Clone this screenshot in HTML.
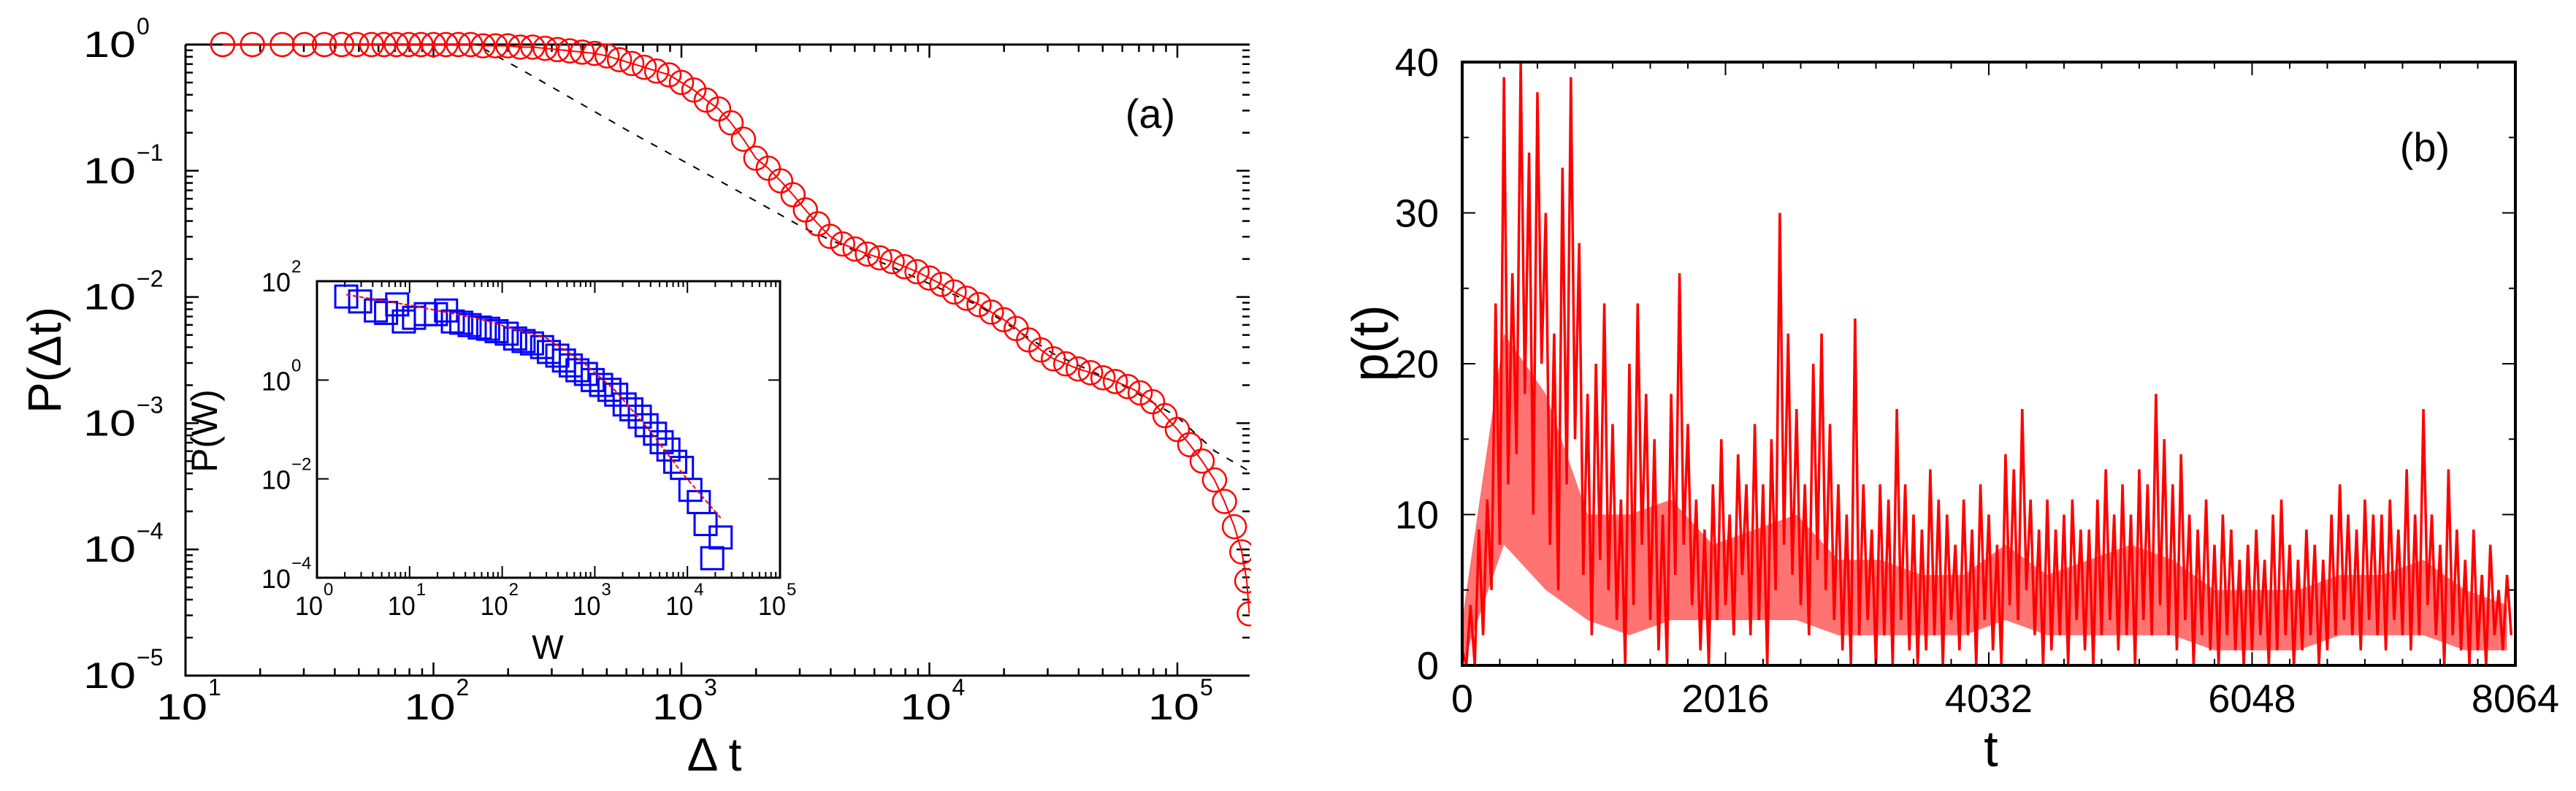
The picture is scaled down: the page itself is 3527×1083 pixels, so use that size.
<!DOCTYPE html>
<html><head><meta charset="utf-8"><style>
html,body{margin:0;padding:0;background:#fff;}
svg{display:block;font-family:"Liberation Sans",sans-serif;}
</style></head><body>
<svg id="fig" width="3527" height="1083" viewBox="0 0 3527 1083" xmlns="http://www.w3.org/2000/svg">
<defs><clipPath id="clipA"><rect x="200" y="0" width="1513" height="1083"/></clipPath>
<clipPath id="clipB"><rect x="2002" y="85" width="1442" height="826"/></clipPath></defs>
<g id="panelA"></g>
<g id="panelB"></g>
</svg>
<script>
// ---------- Panel (a) data (log10 values) ----------
const circleLogX = [1.15,1.27,1.39,1.48,1.56,1.63,1.69,1.75,1.80,1.85,1.90,1.95,2.00,2.05,2.10,2.15,2.20,2.25,2.30,2.35,2.40,2.45,2.50,2.55,2.60,2.65,2.70,2.75,2.80,2.85,2.90,2.95,3.00,3.05,3.10,3.15,3.20,3.25,3.30,3.35,3.40,3.45,3.50,3.55,3.60,3.65,3.70,3.75,3.80,3.85,3.90,3.95,4.00,4.05,4.10,4.15,4.20,4.25,4.30,4.35,4.40,4.45,4.50,4.55,4.60,4.65,4.70,4.75,4.80,4.85,4.90,4.95,5.00,5.05,5.10,5.15,5.19,5.23,5.26,5.28,5.29];
const circleLogY = [0,0,0,0,0,0,0,0,0,0,0,0,0,0,0,0,-0.01,-0.01,-0.01,-0.02,-0.02,-0.03,-0.04,-0.05,-0.06,-0.07,-0.09,-0.12,-0.15,-0.18,-0.21,-0.24,-0.30,-0.36,-0.44,-0.51,-0.62,-0.75,-0.90,-0.98,-1.08,-1.19,-1.31,-1.42,-1.52,-1.58,-1.62,-1.66,-1.69,-1.72,-1.76,-1.80,-1.85,-1.90,-1.96,-2.01,-2.06,-2.12,-2.18,-2.25,-2.34,-2.42,-2.49,-2.53,-2.57,-2.60,-2.64,-2.67,-2.71,-2.76,-2.83,-2.94,-3.05,-3.17,-3.30,-3.45,-3.62,-3.82,-4.02,-4.25,-4.51];
const dashLogX = [2.2,2.4,2.8,3.2,3.5,3.8,4.2,4.5,4.8,5.0,5.15,5.29];
const dashLogY = [-0.03,-0.25,-0.70,-1.13,-1.46,-1.72,-2.07,-2.45,-2.72,-2.95,-3.22,-3.38];
const xTickExps = [1,2,3,4,5];
const yTickExps = [0,-1,-2,-3,-4,-5];
// inset
const sqLogX = [0.316,0.466,0.636,0.746,0.866,0.938,1.048,1.175,1.285,1.394,1.467,1.558,1.648,1.758,1.849,1.940,2.049,2.140,2.231,2.322,2.431,2.504,2.595,2.667,2.740,2.813,2.904,2.977,3.068,3.158,3.231,3.322,3.395,3.486,3.559,3.650,3.722,3.795,3.868,3.941,4.032,4.123,4.196,4.359,4.268];
const sqLogY = [1.689,1.590,1.407,1.358,1.530,1.185,1.259,1.333,1.333,1.407,1.185,1.160,1.111,1.062,1.037,0.988,0.938,0.840,0.790,0.741,0.667,0.568,0.494,0.395,0.296,0.198,0.123,0.000,-0.099,-0.198,-0.296,-0.494,-0.593,-0.741,-0.914,-1.086,-1.259,-1.407,-1.654,-1.778,-2.222,-2.469,-2.914,-3.185,-3.605];
const fitLogX = [0.316,1.03,1.758,2.486,2.85,3.213,3.577,3.941,4.359];
const fitLogY = [1.728,1.506,1.235,0.840,0.395,-0.198,-0.988,-1.877,-2.790];
const insetXTickExps = [0,1,2,3,4,5];
const insetYTickExps = [2,0,-2,-4];
// ---------- Panel (b) data ----------
const tStep = 32;
const pValues = [
1,0,4,0,9,2,11,5,24,8,
39,12,26,14,40,18,34,10,38,20,
30,8,22,5,33,12,39,15,28,6,
18,2,20,7,24,5,16,3,11,0,
20,4,24,8,18,3,15,1,10,0,
18,6,26,8,16,4,11,1,9,0,
12,3,15,4,10,2,14,6,12,2,
16,3,12,0,15,5,30,8,22,6,
17,4,12,2,20,7,22,5,16,3,
12,1,10,0,23,2,12,3,9,0,
12,2,11,0,17,3,12,1,10,0,
9,1,13,2,11,0,10,3,8,1,
11,2,9,0,12,3,10,1,8,0,
14,4,13,3,17,5,11,2,9,0,
11,1,9,2,10,0,11,3,9,1,
9,0,11,2,13,3,10,1,12,2,
10,0,13,3,12,2,18,4,15,2,
12,1,14,3,10,0,9,2,11,1,
8,0,10,2,9,1,7,0,8,1,
9,2,7,0,10,1,11,2,8,0,
7,1,9,2,8,0,7,1,10,2,
12,3,10,2,9,1,11,3,10,2,
10,1,11,3,9,2,13,1,10,2,
17,4,10,2,8,0,13,2,9,1,
7,0,9,1,6,0,8,2,5,1,6,2];
// dense core band of the signal, one entry per 320-step segment
const coreStep = 320;
const coreLow  = [0,8,5,3,2,3,3,3,3,2,2,2,2,3,2,2,2,2,1,1,1,2,2,2,1,1];
const coreHigh = [3,22,18,10,10,11,8,9,10,7,7,6,6,8,6,7,8,7,5,5,5,6,6,7,5,4];
const bXTicks = [0,2016,4032,6048,8064];
const bYTicks = [0,10,20,30,40];

const NS = "http://www.w3.org/2000/svg";
function mk(tag, attrs, parent){const e=document.createElementNS(NS,tag);for(const k in attrs)e.setAttribute(k,attrs[k]);parent.appendChild(e);return e;}

const AX0=254, AX1=1711, AY0=61, AY1=925;
function XA(lx){return AX0 + (lx-1)*339.5;}
function YA(ly){return AY0 - ly*172.8;}
const IX0=434, IX1=1068, IY0=385, IY1=791;
function XI(lx){return IX0 + lx*(IX1-IX0)/5;}
function YI(ly){return IY0 + (2-ly)*(IY1-IY0)/6;}
const BX0=2002, BX1=3444, BY0=85, BY1=911;
function XB(t){return BX0 + t/8064*(BX1-BX0);}
function YB(v){return BY1 - v/40*(BY1-BY0);}

const A = document.getElementById('panelA');
const B = document.getElementById('panelB');

// ----- Panel A axes -----
const frameA = mk('path',{d:`M${AX0},${AY0} L${AX1},${AY0} M${AX0},${AY0} L${AX0},${AY1} L${AX1},${AY1}`,stroke:'#000','stroke-width':3,fill:'none'},A);


let tk='';
for(let d=1; d<=5; d++){
  for(let m=1;m<=9;m++){
    const lx=d+Math.log10(m); if(lx>5.29) break;
    const x=XA(lx), L = m===1?18:10;
    tk+=`M${x},${AY1} L${x},${AY1-L} M${x},${AY0} L${x},${AY0+L} `;
  }
}
for(let d=-5; d<0; d++){
  for(let m=1;m<=9;m++){
    const ly=d+Math.log10(m); const y=YA(ly), L=m===1?18:10;
    tk+=`M${AX0},${y} L${AX0+L},${y} M${AX1},${y} L${AX1-L},${y} `;
  }
}
tk+=`M${AX0},${YA(0)} L${AX0+18},${YA(0)}`;
const ticksA = mk('path',{d:tk,stroke:'#000','stroke-width':2.5,fill:'none'},A);


xTickExps.forEach(e=>{
  const x=XA(e);
  const t=mk('text',{x:x+30,y:985,'font-size':50,'text-anchor':'end',textLength:70,lengthAdjust:'spacingAndGlyphs'},A); t.textContent='10';
  
  
  const s=mk('text',{x:x+31,y:952,'font-size':32},A); s.textContent=String(e);
  
  
});
yTickExps.forEach(e=>{
  const y=YA(e);
  const t=mk('text',{x:186,y:y+17,'font-size':50,'text-anchor':'end',textLength:72,lengthAdjust:'spacingAndGlyphs'},A); t.textContent='10';
  
  
  const s=mk('text',{x:187,y:y-14,'font-size':32},A); s.textContent=e===0?'0':'\u2212'+(-e);
  
  
});
const xlabA=mk('text',{x:978,y:1055,'font-size':64,'text-anchor':'middle'},A); xlabA.textContent='\u0394 t';


const ylabA=mk('text',{x:0,y:0,'font-size':64,'text-anchor':'middle',transform:'translate(83,493) rotate(-90)'},A); ylabA.textContent='P(\u0394t)';


const tagA=mk('text',{x:1575,y:175,'font-size':56,'text-anchor':'middle'},A); tagA.textContent='(a)';



const dashPts = dashLogX.map((lx,i)=>`${XA(lx)},${YA(dashLogY[i])}`).join(' ');
const dash=mk('polyline',{points:dashPts,stroke:'#000','stroke-width':2,fill:'none','stroke-dasharray':'10 12'},A);


const gC = mk('g',{'clip-path':'url(#clipA)'},A);


const linePts = circleLogX.map((lx,i)=>`${XA(lx)},${YA(circleLogY[i])}`).join(' ');
const cl=mk('polyline',{points:linePts,stroke:'#f00','stroke-width':2,fill:'none'},gC);


circleLogX.forEach((lx,i)=>{
  const c=mk('circle',{cx:XA(lx),cy:YA(circleLogY[i]),r:16,stroke:'#f00','stroke-width':2.5,fill:'none'},gC);
  
  
});

// ----- Inset -----
const inset = mk('g',{},A);


const ibg=mk('rect',{x:IX0,y:IY0,width:IX1-IX0,height:IY1-IY0,fill:'#fff',stroke:'#000','stroke-width':3},inset);


let itk='';
for(let d=0; d<5; d++){
  for(let m=1;m<=9;m++){
    const x=XI(d+Math.log10(m)), L=m===1?16:8;
    itk+=`M${x},${IY1} L${x},${IY1-L} M${x},${IY0} L${x},${IY0+L} `;
  }
}
insetYTickExps.forEach(e=>{const y=YI(e); itk+=`M${IX0},${y} L${IX0+16},${y} M${IX1},${y} L${IX1-16},${y} `;});
const iticks=mk('path',{d:itk,stroke:'#000','stroke-width':2,fill:'none'},inset);


insetXTickExps.forEach(e=>{
  const x=XI(e);
  const t=mk('text',{x:x+8,y:842,'font-size':36,'text-anchor':'end',textLength:38,lengthAdjust:'spacingAndGlyphs'},inset); t.textContent='10';
  
  
  const s=mk('text',{x:x+9,y:815,'font-size':24},inset); s.textContent=String(e);
  
  
});
insetYTickExps.forEach(e=>{
  const y=YI(e);
  const t=mk('text',{x:398,y:y+14,'font-size':36,'text-anchor':'end',textLength:40,lengthAdjust:'spacingAndGlyphs'},inset); t.textContent='10';
  
  
  const s=mk('text',{x:399,y:y-12,'font-size':24},inset); s.textContent=e<0?'\u2212'+(-e):String(e);
  
  
});
const iw=mk('text',{x:750,y:902,'font-size':46,'text-anchor':'middle'},inset); iw.textContent='W';


const ipw=mk('text',{x:0,y:0,'font-size':50,'text-anchor':'middle',transform:'translate(297,590) rotate(-90)'},inset); ipw.textContent='P(W)';


sqLogX.forEach((lx,i)=>{
  const r=mk('rect',{x:XI(lx)-15,y:YI(sqLogY[i])-15,width:30,height:30,stroke:'#00f','stroke-width':3,fill:'none'},inset);
  
  
});
const fitPts = fitLogX.map((lx,i)=>`${XI(lx)},${YI(fitLogY[i])}`).join(' ');
const fit=mk('polyline',{points:fitPts,stroke:'#f00','stroke-width':2,fill:'none','stroke-dasharray':'6 3'},inset);



// ----- Panel B -----
const gB = mk('g',{'clip-path':'url(#clipB)'},B);


const upper = coreHigh.map((v,i)=>`${XB(i*coreStep).toFixed(1)},${YB(v).toFixed(1)}`);
const lower = coreLow.map((v,i)=>`${XB(i*coreStep).toFixed(1)},${YB(v).toFixed(1)}`).reverse();
const band=mk('polygon',{points:upper.concat(lower).join(' '),fill:'#f00','fill-opacity':0.55,stroke:'none'},gB);


const seriesPts = pValues.map((v,i)=>`${XB(i*tStep).toFixed(1)},${YB(v).toFixed(1)}`).join(' ');
const ser=mk('polyline',{points:seriesPts,stroke:'#f00','stroke-width':3.5,fill:'none','stroke-linejoin':'bevel'},gB);


const frameB=mk('rect',{x:BX0,y:BY0,width:BX1-BX0,height:BY1-BY0,stroke:'#000','stroke-width':4,fill:'none'},B);


let btk='';
for(let t=0;t<=8064;t+=288){const x=XB(t), L=(t%2016===0)?18:9; btk+=`M${x},${BY1} L${x},${BY1-L} M${x},${BY0} L${x},${BY0+L} `;}
for(let v=0;v<=40;v+=5){const y=YB(v), L=(v%10===0)?18:9; btk+=`M${BX0},${y} L${BX0+L},${y} M${BX1},${y} L${BX1-L},${y} `;}
const ticksB=mk('path',{d:btk,stroke:'#000','stroke-width':2,fill:'none'},B);


bXTicks.forEach(t=>{
  const e=mk('text',{x:XB(t),y:975,'font-size':54,'text-anchor':'middle'},B); e.textContent=String(t);
  
  
});
bYTicks.forEach(v=>{
  const e=mk('text',{x:1970,y:YB(v)+19,'font-size':54,'text-anchor':'end'},B); e.textContent=String(v);
  
  
});
const xlabB=mk('text',{x:2726,y:1049,'font-size':70,'text-anchor':'middle'},B); xlabB.textContent='t';


const ylabB=mk('text',{x:0,y:0,'font-size':70,'text-anchor':'middle',transform:'translate(1900,470) rotate(-90)'},B); ylabB.textContent='p(t)';


const tagB=mk('text',{x:3320,y:221,'font-size':56,'text-anchor':'middle'},B); tagB.textContent='(b)';


</script>
</body></html>
